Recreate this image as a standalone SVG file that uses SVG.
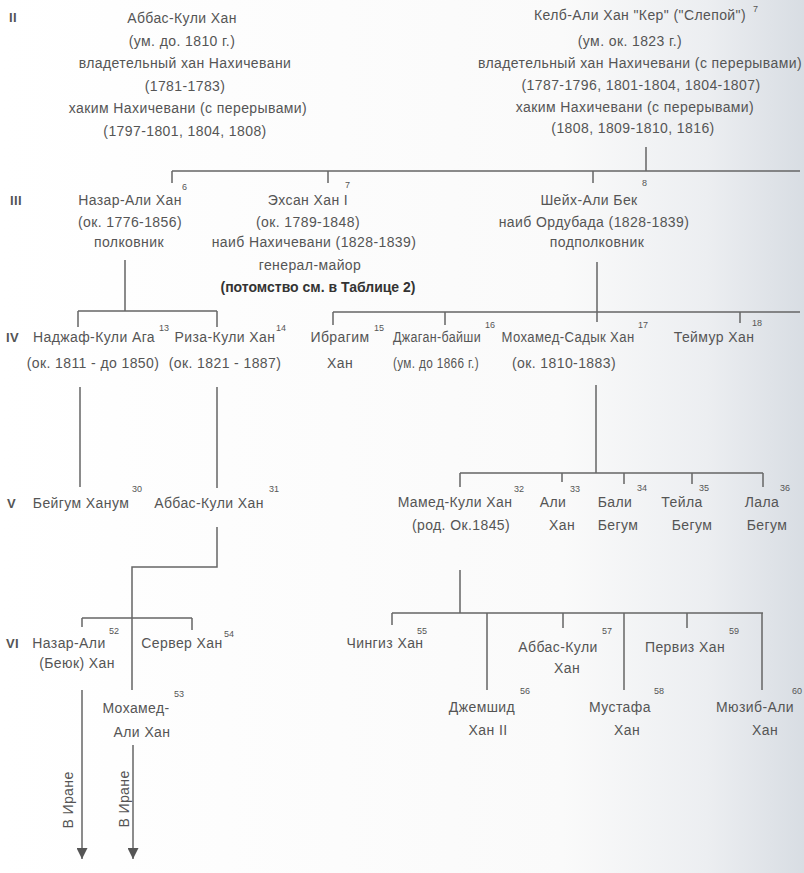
<svg xmlns="http://www.w3.org/2000/svg" width="804" height="873" viewBox="0 0 804 873">
<defs>
<linearGradient id="bg" x1="0" y1="0" x2="1" y2="0">
<stop offset="0" stop-color="#ffffff"/>
<stop offset="0.7" stop-color="#fafafa"/>
<stop offset="0.88" stop-color="#eceef1"/>
<stop offset="1" stop-color="#d8dde3"/>
</linearGradient>
<marker id="arr" viewBox="0 0 10 10" refX="5" refY="10" markerWidth="11" markerHeight="12" markerUnits="userSpaceOnUse" orient="0">
<path d="M0,0 L10,0 L5,10 Z" fill="#555"/>
</marker>
<style>
text{font-family:"Liberation Sans",Arial,sans-serif;font-size:14px;fill:#555;letter-spacing:0.4px}
.c{text-anchor:middle}
.s{font-size:9px;letter-spacing:0}
.g{font-size:13px;font-weight:bold;fill:#555}
.b{font-weight:bold;fill:#333;letter-spacing:0}
.ln{fill:none;stroke:#666;stroke-width:1.5}
</style>
</defs>
<rect width="804" height="873" fill="url(#bg)"/>

<g id="generations">
<text class="g" x="9" y="22">II</text>
<text class="g" x="10" y="205">III</text>
<text class="g" x="6" y="342">IV</text>
<text class="g" x="7" y="508">V</text>
<text class="g" x="6" y="648">VI</text>
</g>

<g id="connectors" class="ln">
<path d="M646,147 V171 M172,171 H800 M172,171 V183 M328,171 V183 M593,171 V183"/>
<path d="M125,260 V311 M78,311 H217 M78,311 V327 M217,311 V327"/>
<path d="M597,262 V312 M333,312 H800 M333,312 V325 M445,312 V325 M597,312 V322 M740,312 V323"/>
<path d="M80,387 V487 M217,387 V488"/>
<path d="M596,385 V473 M460,473 H763 M460,473 V487 M562,473 V482 M624,473 V484 M692,473 V484 M763,473 V487"/>
<path d="M217,527 V567 H132 V690 M82,618 H192 M82,618 V627 M192,618 V630"/>
<path d="M460,570 V613 M392,613 H763 M392,613 V625 M487,613 V690 M563,613 V628 M624,613 V690 M687,613 V628 M762,613 V690"/>
<path d="M82,690 V859" marker-end="url(#arr)"/>
<path d="M133,745 V859" marker-end="url(#arr)"/>
</g>

<g id="abbas-kuli-khan-1">
<text class="c" x="182" y="23">Аббас-Кули Хан</text>
<text class="c" x="182" y="46">(ум. до. 1810 г.)</text>
<text class="c" x="185" y="68">владетельный хан Нахичевани</text>
<text class="c" x="185" y="91">(1781-1783)</text>
<text class="c" x="188" y="113">хаким Нахичевани (с перерывами)</text>
<text class="c" x="185" y="136">(1797-1801, 1804, 1808)</text>
</g>

<g id="kelb-ali-khan">
<text class="c" x="640" y="20">Келб-Али Хан "Кер" ("Слепой")</text>
<text class="s" x="753" y="12">7</text>
<text class="c" x="630" y="46">(ум. ок. 1823 г.)</text>
<text class="c" x="640" y="68">владетельный хан Нахичевани (с перерывами)</text>
<text class="c" x="641" y="90">(1787-1796, 1801-1804, 1804-1807)</text>
<text class="c" x="635" y="112">хаким Нахичевани (с перерывами)</text>
<text class="c" x="633" y="133">(1808, 1809-1810, 1816)</text>
</g>

<g id="nazar-ali-khan">
<text class="c" x="130" y="205">Назар-Али Хан</text>
<text class="s" x="182" y="190">6</text>
<text class="c" x="130" y="227">(ок. 1776-1856)</text>
<text class="c" x="129" y="247">полковник</text>
</g>

<g id="ehsan-khan">
<text class="c" x="308" y="205">Эхсан Хан I</text>
<text class="s" x="345" y="188">7</text>
<text class="c" x="308" y="227">(ок. 1789-1848)</text>
<text class="c" x="314" y="247">наиб Нахичевани (1828-1839)</text>
<text class="c" x="310" y="270">генерал-майор</text>
<text class="c b" x="318" y="292">(потомство см. в Таблице 2)</text>
</g>

<g id="sheikh-ali-bek">
<text class="c" x="589" y="205">Шейх-Али Бек</text>
<text class="s" x="642" y="186">8</text>
<text class="c" x="594" y="227">наиб Ордубада (1828-1839)</text>
<text class="c" x="597" y="247">подполковник</text>
</g>

<g id="najaf-kuli-aga">
<text class="c" x="94" y="342">Наджаф-Кули Ага</text>
<text class="s" x="159" y="331">13</text>
<text class="c" x="93" y="368">(ок. 1811 - до 1850)</text>
</g>

<g id="riza-kuli-khan">
<text class="c" x="225" y="342">Риза-Кули Хан</text>
<text class="s" x="276" y="331">14</text>
<text class="c" x="225" y="368">(ок. 1821 - 1887)</text>
</g>

<g id="ibragim-khan">
<text class="c" x="340" y="342">Ибрагим</text>
<text class="c" x="340" y="368">Хан</text>
<text class="s" x="374" y="331">15</text>
</g>

<g id="jagan-baishi">
<text class="c" x="437" y="342" textLength="88" lengthAdjust="spacingAndGlyphs">Джаган-байши</text>
<text class="s" x="485" y="328">16</text>
<text class="c" x="436" y="368" textLength="86" lengthAdjust="spacingAndGlyphs">(ум. до 1866 г.)</text>
</g>

<g id="mohamed-sadyk-khan">
<text class="c" x="568" y="342" textLength="133" lengthAdjust="spacingAndGlyphs">Мохамед-Садык Хан</text>
<text class="s" x="638" y="328">17</text>
<text class="c" x="564" y="368">(ок. 1810-1883)</text>
</g>

<g id="teimur-khan">
<text class="c" x="714" y="342">Теймур Хан</text>
<text class="s" x="752" y="326">18</text>
</g>

<g id="beigum-khanum">
<text class="c" x="81" y="508">Бейгум Ханум</text>
<text class="s" x="132" y="492">30</text>
</g>

<g id="abbas-kuli-khan-2">
<text class="c" x="209" y="508">Аббас-Кули Хан</text>
<text class="s" x="269" y="492">31</text>
</g>

<g id="mamed-kuli-khan">
<text class="c" x="455" y="507">Мамед-Кули Хан</text>
<text class="s" x="514" y="492">32</text>
<text class="c" x="461" y="530">(род. Ок.1845)</text>
</g>

<g id="ali-khan">
<text class="c" x="553" y="507">Али</text>
<text class="c" x="562" y="530">Хан</text>
<text class="s" x="570" y="492">33</text>
</g>

<g id="bali-begum">
<text class="c" x="615" y="507">Бали</text>
<text class="c" x="618" y="530">Бегум</text>
<text class="s" x="637" y="491">34</text>
</g>

<g id="teila-begum">
<text class="c" x="682" y="507">Тейла</text>
<text class="c" x="692" y="530">Бегум</text>
<text class="s" x="699" y="491">35</text>
</g>

<g id="lala-begum">
<text class="c" x="762" y="507">Лала</text>
<text class="c" x="767" y="530">Бегум</text>
<text class="s" x="780" y="491">36</text>
</g>

<g id="nazar-ali-beyuk-khan">
<text class="c" x="69" y="648">Назар-Али</text>
<text class="c" x="77" y="668">(Беюк) Хан</text>
<text class="s" x="109" y="634">52</text>
</g>

<g id="mohamed-ali-khan">
<text class="c" x="136" y="713">Мохамед-</text>
<text class="c" x="142" y="737">Али Хан</text>
<text class="s" x="174" y="697">53</text>
</g>

<g id="server-khan">
<text class="c" x="182" y="648">Сервер Хан</text>
<text class="s" x="224" y="637">54</text>
</g>

<g id="chingiz-khan">
<text class="c" x="385" y="648">Чингиз Хан</text>
<text class="s" x="417" y="634">55</text>
</g>

<g id="jemshid-khan-2">
<text class="c" x="482" y="712">Джемшид</text>
<text class="c" x="488" y="735">Хан II</text>
<text class="s" x="520" y="694">56</text>
</g>

<g id="abbas-kuli-khan-3">
<text class="c" x="558" y="652">Аббас-Кули</text>
<text class="c" x="567" y="673">Хан</text>
<text class="s" x="602" y="634">57</text>
</g>

<g id="mustafa-khan">
<text class="c" x="620" y="712">Мустафа</text>
<text class="c" x="627" y="735">Хан</text>
<text class="s" x="654" y="694">58</text>
</g>

<g id="perviz-khan">
<text class="c" x="685" y="652">Первиз Хан</text>
<text class="s" x="729" y="634">59</text>
</g>

<g id="muzib-ali-khan">
<text class="c" x="755" y="712">Мюзиб-Али</text>
<text class="c" x="765" y="735">Хан</text>
<text class="s" x="792" y="694">60</text>
</g>

<g id="iran-labels">
<text transform="translate(73,800) rotate(-90)" class="c">В Иране</text>
<text transform="translate(129,799) rotate(-90)" class="c">В Иране</text>
</g>
</svg>
